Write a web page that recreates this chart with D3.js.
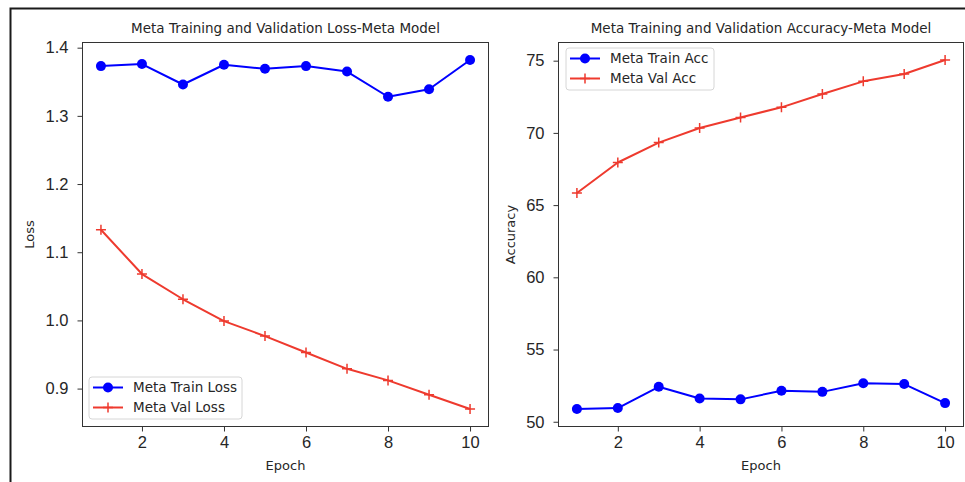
<!DOCTYPE html>
<html>
<head>
<meta charset="utf-8">
<script src="https://cdn.jsdelivr.net/npm/d3@7"></script>
<style>
  body { margin: 0; background: #fff; }
  svg { display: block; font-family: "DejaVu Sans", sans-serif; }
</style>
</head>
<body>
<svg id="chart" width="965" height="482"></svg>
<script>
"use strict";

// data
var epochs = [1, 2, 3, 4, 5, 6, 7, 8, 9, 10];
var trainLoss = [1.373, 1.376, 1.346, 1.375, 1.369, 1.373, 1.365, 1.328, 1.339, 1.382];
var valLoss = [1.133, 1.068, 1.031, 0.999, 0.977, 0.953, 0.929, 0.912, 0.891, 0.870];
var trainAcc = [50.88, 50.95, 52.42, 51.61, 51.55, 52.15, 52.07, 52.67, 52.61, 51.29];
var valAcc = [65.84, 67.95, 69.33, 70.34, 71.07, 71.77, 72.69, 73.57, 74.08, 75.05];

var xTicks = [2, 4, 6, 8, 10];
var lossTicks = [0.9, 1.0, 1.1, 1.2, 1.3, 1.4];
var accTicks = [50, 55, 60, 65, 70, 75];

var blue = "#0000ff";
var red = "#ee3a2e";

var svg = d3.select("#chart");

// outer frame (top and left edge of the screenshot)
svg.append("path")
    .attr("d", "M10.5,482V8.5H965")
    .attr("fill", "none")
    .attr("stroke", "#1a1a1a")
    .attr("stroke-width", 2);

// matplotlib style 5% margins
function padded(arrs) {
    var all = [].concat.apply([], arrs);
    var ext = d3.extent(all);
    var pad = (ext[1] - ext[0]) * 0.05;
    return [ext[0] - pad, ext[1] + pad];
}

function drawPanel(cfg) {
    var x = d3.scaleLinear().domain([0.55, 10.45]).range([cfg.left, cfg.right]);
    var y = d3.scaleLinear().domain(padded([cfg.train, cfg.val])).range([cfg.bottom, cfg.top]);

    var g = svg.append("g");

    // axes
    var xAxis = g.append("g")
        .attr("transform", "translate(0," + cfg.bottom + ")")
        .call(d3.axisBottom(x).tickValues(xTicks).tickSize(5).tickPadding(5).tickFormat(d3.format("d")));
    var yAxis = g.append("g")
        .attr("transform", "translate(" + cfg.left + ",0)")
        .call(d3.axisLeft(y).tickValues(cfg.ticks).tickSize(5).tickPadding(9).tickFormat(cfg.fmt));
    [xAxis, yAxis].forEach(function(a) {
        a.select(".domain").remove();
        a.selectAll("line").attr("stroke", "#333");
        a.selectAll("text").attr("fill", "#262626").style("font-size", "16.5px");
    });

    // lines + markers
    var line = d3.line().x(function(d, i) { return x(epochs[i]); }).y(function(d) { return y(d); });

    g.append("path").datum(cfg.train)
        .attr("d", line).attr("fill", "none")
        .attr("stroke", blue).attr("stroke-width", 2).attr("stroke-linejoin", "round");
    g.selectAll(".dot").data(cfg.train).enter().append("circle")
        .attr("cx", function(d, i) { return x(epochs[i]); })
        .attr("cy", function(d) { return y(d); })
        .attr("r", 5).attr("fill", blue);

    g.append("path").datum(cfg.val)
        .attr("d", line).attr("fill", "none")
        .attr("stroke", red).attr("stroke-width", 2).attr("stroke-linejoin", "round");
    g.selectAll(".plus").data(cfg.val).enter().append("path")
        .attr("transform", function(d, i) { return "translate(" + x(epochs[i]) + "," + y(d) + ")"; })
        .attr("d", "M-5,0H5M0,-5V5")
        .attr("stroke", red).attr("stroke-width", 1.5);

    // frame
    g.append("rect")
        .attr("x", cfg.left).attr("y", cfg.top)
        .attr("width", cfg.right - cfg.left).attr("height", cfg.bottom - cfg.top)
        .attr("fill", "none").attr("stroke", "#333").attr("stroke-width", 1);

    // titles and labels
    g.append("text")
        .attr("x", (cfg.left + cfg.right) / 2).attr("y", 33)
        .attr("text-anchor", "middle").style("font-size", "13.5px").attr("fill", "#262626")
        .text(cfg.title);
    g.append("text")
        .attr("x", (cfg.left + cfg.right) / 2).attr("y", 470)
        .attr("text-anchor", "middle").style("font-size", "13px").attr("fill", "#262626")
        .text("Epoch");
    g.append("text")
        .attr("transform", "translate(" + cfg.ylabelX + "," + ((cfg.top + cfg.bottom) / 2) + ") rotate(-90)")
        .attr("text-anchor", "middle").style("font-size", "13px").attr("fill", "#262626")
        .text(cfg.ylabel);

    // legend
    var lg = g.append("g").attr("transform", "translate(" + cfg.legX + "," + cfg.legY + ")");
    lg.append("rect")
        .attr("x", 0).attr("y", 0).attr("width", cfg.legW).attr("height", 42).attr("rx", 3)
        .attr("fill", "#fff").attr("fill-opacity", 0.8)
        .attr("stroke", "#d6d6d6").attr("stroke-width", 1);
    var items = [
        { name: cfg.names[0], color: blue, marker: "dot" },
        { name: cfg.names[1], color: red, marker: "plus" }
    ];
    items.forEach(function(it, i) {
        var yy = 10.5 + i * 20;
        lg.append("line").attr("x1", 4).attr("x2", 34).attr("y1", yy).attr("y2", yy)
            .attr("stroke", it.color).attr("stroke-width", 2);
        if (it.marker === "dot") {
            lg.append("circle").attr("cx", 19).attr("cy", yy).attr("r", 5).attr("fill", it.color);
        } else {
            lg.append("path").attr("d", "M14," + yy + "H24M19," + (yy - 5) + "V" + (yy + 5))
                .attr("stroke", it.color).attr("stroke-width", 1.5);
        }
        lg.append("text").attr("x", 44).attr("y", yy + 4.5)
            .style("font-size", "13.5px").attr("fill", "#262626")
            .text(it.name);
    });
}

drawPanel({
    left: 82.5, right: 488.5, top: 42.5, bottom: 426.5,
    train: trainLoss, val: valLoss, ticks: lossTicks, fmt: d3.format(".1f"),
    title: "Meta Training and Validation Loss-Meta Model",
    ylabel: "Loss", ylabelX: 34,
    names: ["Meta Train Loss", "Meta Val Loss"],
    legX: 89, legY: 377, legW: 153
});

drawPanel({
    left: 558.5, right: 963.5, top: 42.5, bottom: 426.5,
    train: trainAcc, val: valAcc, ticks: accTicks, fmt: d3.format("d"),
    title: "Meta Training and Validation Accuracy-Meta Model",
    ylabel: "Accuracy", ylabelX: 515,
    names: ["Meta Train Acc", "Meta Val Acc"],
    legX: 566, legY: 48, legW: 148
});
</script>
</body>
</html>
